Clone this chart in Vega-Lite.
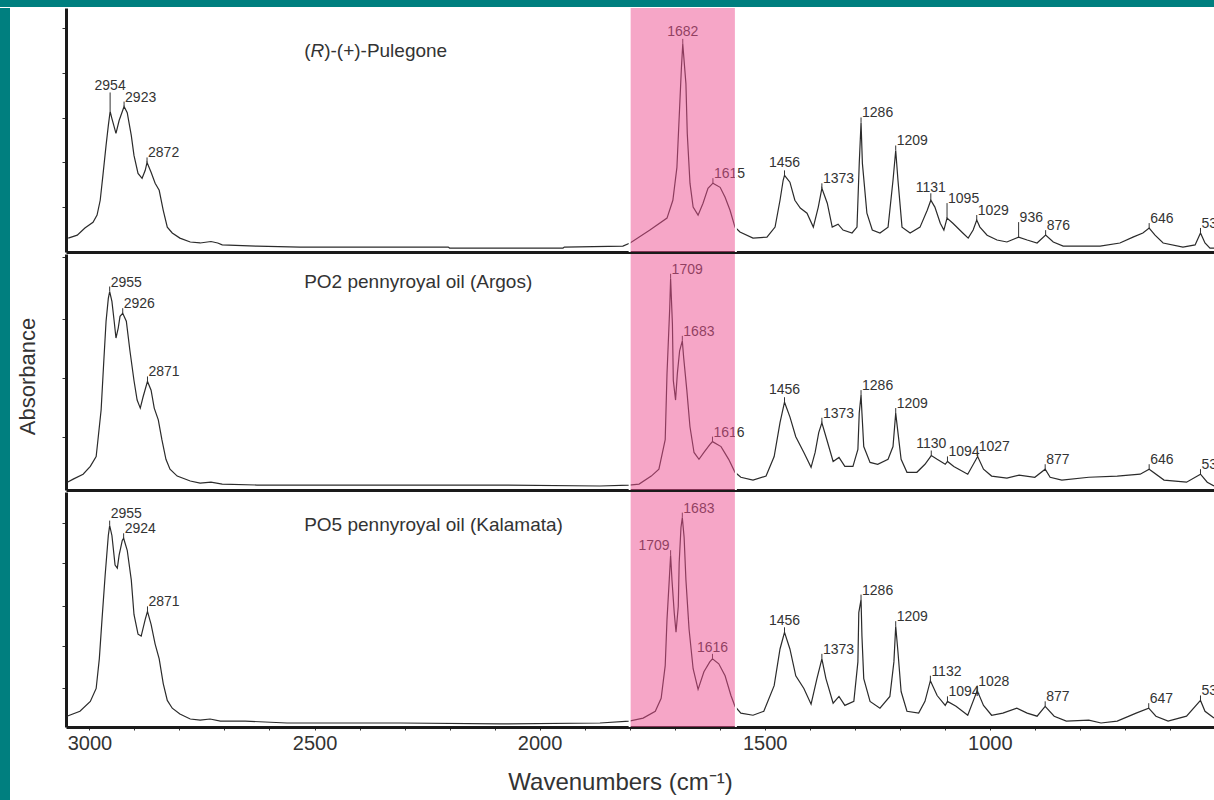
{
  "$schema": "https://vega.github.io/schema/vega-lite/v6.json",
  "background": "white",
  "padding": 0,
  "spacing": 0,
  "config": {
    "view": {"stroke": null},
    "concat": {"spacing": 0},
    "axis": {"domainColor": "#1a1a1a", "domainWidth": 3, "tickColor": "#333333", "tickWidth": 1, "labelFont": "Liberation Sans", "titleFont": "Liberation Sans", "labelColor": "#333333", "titleColor": "#333333", "titleFontWeight": "normal", "grid": false},
    "text": {"font": "Liberation Sans"}
  },
  "datasets": {
    "spectra": [
      {"sample":"Pulegone","wavenumber":3047,"absorbance":0.057},{"sample":"Pulegone","wavenumber":3027,"absorbance":0.069},{"sample":"Pulegone","wavenumber":3010,"absorbance":0.098},{"sample":"Pulegone","wavenumber":2992,"absorbance":0.122},{"sample":"Pulegone","wavenumber":2983,"absorbance":0.151},{"sample":"Pulegone","wavenumber":2976,"absorbance":0.212},{"sample":"Pulegone","wavenumber":2970,"absorbance":0.314},{"sample":"Pulegone","wavenumber":2963,"absorbance":0.437},{"sample":"Pulegone","wavenumber":2958,"absorbance":0.518},{"sample":"Pulegone","wavenumber":2954,"absorbance":0.576},{"sample":"Pulegone","wavenumber":2950,"absorbance":0.547},{"sample":"Pulegone","wavenumber":2941,"absorbance":0.486},{"sample":"Pulegone","wavenumber":2934,"absorbance":0.539},{"sample":"Pulegone","wavenumber":2923,"absorbance":0.596},{"sample":"Pulegone","wavenumber":2916,"absorbance":0.571},{"sample":"Pulegone","wavenumber":2907,"absorbance":0.478},{"sample":"Pulegone","wavenumber":2901,"absorbance":0.396},{"sample":"Pulegone","wavenumber":2892,"absorbance":0.322},{"sample":"Pulegone","wavenumber":2883,"absorbance":0.302},{"sample":"Pulegone","wavenumber":2876,"absorbance":0.335},{"sample":"Pulegone","wavenumber":2872,"absorbance":0.367},{"sample":"Pulegone","wavenumber":2863,"absorbance":0.327},{"sample":"Pulegone","wavenumber":2854,"absorbance":0.282},{"sample":"Pulegone","wavenumber":2845,"absorbance":0.253},{"sample":"Pulegone","wavenumber":2836,"absorbance":0.171},{"sample":"Pulegone","wavenumber":2827,"absorbance":0.102},{"sample":"Pulegone","wavenumber":2816,"absorbance":0.078},{"sample":"Pulegone","wavenumber":2799,"absorbance":0.057},{"sample":"Pulegone","wavenumber":2776,"absorbance":0.041},{"sample":"Pulegone","wavenumber":2754,"absorbance":0.037},{"sample":"Pulegone","wavenumber":2730,"absorbance":0.043},{"sample":"Pulegone","wavenumber":2715,"absorbance":0.037},{"sample":"Pulegone","wavenumber":2705,"absorbance":0.029},{"sample":"Pulegone","wavenumber":2628,"absorbance":0.024},{"sample":"Pulegone","wavenumber":2532,"absorbance":0.020},{"sample":"Pulegone","wavenumber":2203,"absorbance":0.020},{"sample":"Pulegone","wavenumber":2200,"absorbance":0.016},{"sample":"Pulegone","wavenumber":1948,"absorbance":0.016},{"sample":"Pulegone","wavenumber":1945,"absorbance":0.020},{"sample":"Pulegone","wavenumber":1815,"absorbance":0.024},{"sample":"Pulegone","wavenumber":1799,"absorbance":0.037},{"sample":"Pulegone","wavenumber":1755,"absorbance":0.090},{"sample":"Pulegone","wavenumber":1717,"absorbance":0.139},{"sample":"Pulegone","wavenumber":1704,"absorbance":0.212},{"sample":"Pulegone","wavenumber":1695,"absorbance":0.347},{"sample":"Pulegone","wavenumber":1690,"absorbance":0.551},{"sample":"Pulegone","wavenumber":1685,"absorbance":0.755},{"sample":"Pulegone","wavenumber":1682,"absorbance":0.853},{"sample":"Pulegone","wavenumber":1675,"absorbance":0.690},{"sample":"Pulegone","wavenumber":1672,"absorbance":0.486},{"sample":"Pulegone","wavenumber":1666,"absorbance":0.282},{"sample":"Pulegone","wavenumber":1659,"absorbance":0.184},{"sample":"Pulegone","wavenumber":1648,"absorbance":0.151},{"sample":"Pulegone","wavenumber":1637,"absorbance":0.200},{"sample":"Pulegone","wavenumber":1626,"absorbance":0.261},{"sample":"Pulegone","wavenumber":1615,"absorbance":0.282},{"sample":"Pulegone","wavenumber":1599,"absorbance":0.265},{"sample":"Pulegone","wavenumber":1588,"absorbance":0.224},{"sample":"Pulegone","wavenumber":1577,"absorbance":0.171},{"sample":"Pulegone","wavenumber":1566,"absorbance":0.102},{"sample":"Pulegone","wavenumber":1555,"absorbance":0.082},{"sample":"Pulegone","wavenumber":1526,"absorbance":0.057},{"sample":"Pulegone","wavenumber":1495,"absorbance":0.061},{"sample":"Pulegone","wavenumber":1477,"absorbance":0.102},{"sample":"Pulegone","wavenumber":1466,"absorbance":0.212},{"sample":"Pulegone","wavenumber":1459,"absorbance":0.294},{"sample":"Pulegone","wavenumber":1456,"absorbance":0.314},{"sample":"Pulegone","wavenumber":1444,"absorbance":0.286},{"sample":"Pulegone","wavenumber":1433,"absorbance":0.212},{"sample":"Pulegone","wavenumber":1421,"absorbance":0.180},{"sample":"Pulegone","wavenumber":1406,"absorbance":0.159},{"sample":"Pulegone","wavenumber":1392,"absorbance":0.102},{"sample":"Pulegone","wavenumber":1381,"absorbance":0.184},{"sample":"Pulegone","wavenumber":1373,"absorbance":0.261},{"sample":"Pulegone","wavenumber":1361,"absorbance":0.200},{"sample":"Pulegone","wavenumber":1350,"absorbance":0.102},{"sample":"Pulegone","wavenumber":1337,"absorbance":0.114},{"sample":"Pulegone","wavenumber":1326,"absorbance":0.090},{"sample":"Pulegone","wavenumber":1306,"absorbance":0.078},{"sample":"Pulegone","wavenumber":1295,"absorbance":0.102},{"sample":"Pulegone","wavenumber":1290,"absorbance":0.363},{"sample":"Pulegone","wavenumber":1286,"absorbance":0.531},{"sample":"Pulegone","wavenumber":1283,"absorbance":0.363},{"sample":"Pulegone","wavenumber":1273,"absorbance":0.159},{"sample":"Pulegone","wavenumber":1261,"absorbance":0.090},{"sample":"Pulegone","wavenumber":1244,"absorbance":0.078},{"sample":"Pulegone","wavenumber":1226,"absorbance":0.102},{"sample":"Pulegone","wavenumber":1215,"absorbance":0.294},{"sample":"Pulegone","wavenumber":1209,"absorbance":0.416},{"sample":"Pulegone","wavenumber":1204,"absorbance":0.294},{"sample":"Pulegone","wavenumber":1195,"absorbance":0.102},{"sample":"Pulegone","wavenumber":1177,"absorbance":0.078},{"sample":"Pulegone","wavenumber":1155,"absorbance":0.102},{"sample":"Pulegone","wavenumber":1139,"absorbance":0.171},{"sample":"Pulegone","wavenumber":1131,"absorbance":0.212},{"sample":"Pulegone","wavenumber":1122,"absorbance":0.184},{"sample":"Pulegone","wavenumber":1110,"absorbance":0.118},{"sample":"Pulegone","wavenumber":1102,"absorbance":0.090},{"sample":"Pulegone","wavenumber":1095,"absorbance":0.139},{"sample":"Pulegone","wavenumber":1082,"absorbance":0.118},{"sample":"Pulegone","wavenumber":1060,"absorbance":0.078},{"sample":"Pulegone","wavenumber":1048,"absorbance":0.057},{"sample":"Pulegone","wavenumber":1037,"absorbance":0.090},{"sample":"Pulegone","wavenumber":1029,"absorbance":0.131},{"sample":"Pulegone","wavenumber":1022,"absorbance":0.102},{"sample":"Pulegone","wavenumber":1006,"absorbance":0.069},{"sample":"Pulegone","wavenumber":984,"absorbance":0.049},{"sample":"Pulegone","wavenumber":962,"absorbance":0.041},{"sample":"Pulegone","wavenumber":936,"absorbance":0.061},{"sample":"Pulegone","wavenumber":917,"absorbance":0.049},{"sample":"Pulegone","wavenumber":895,"absorbance":0.037},{"sample":"Pulegone","wavenumber":876,"absorbance":0.069},{"sample":"Pulegone","wavenumber":859,"absorbance":0.041},{"sample":"Pulegone","wavenumber":837,"absorbance":0.024},{"sample":"Pulegone","wavenumber":755,"absorbance":0.024},{"sample":"Pulegone","wavenumber":711,"absorbance":0.037},{"sample":"Pulegone","wavenumber":682,"absorbance":0.061},{"sample":"Pulegone","wavenumber":660,"absorbance":0.078},{"sample":"Pulegone","wavenumber":646,"absorbance":0.098},{"sample":"Pulegone","wavenumber":633,"absorbance":0.069},{"sample":"Pulegone","wavenumber":615,"absorbance":0.037},{"sample":"Pulegone","wavenumber":571,"absorbance":0.020},{"sample":"Pulegone","wavenumber":544,"absorbance":0.029},{"sample":"Pulegone","wavenumber":532,"absorbance":0.078},{"sample":"Pulegone","wavenumber":522,"absorbance":0.037},{"sample":"Pulegone","wavenumber":511,"absorbance":0.016},{"sample":"Pulegone","wavenumber":502,"absorbance":0.016},
      {"sample":"PO2","wavenumber":3049,"absorbance":0.033},{"sample":"PO2","wavenumber":3036,"absorbance":0.046},{"sample":"PO2","wavenumber":3014,"absorbance":0.067},{"sample":"PO2","wavenumber":2998,"absorbance":0.100},{"sample":"PO2","wavenumber":2985,"absorbance":0.142},{"sample":"PO2","wavenumber":2981,"absorbance":0.213},{"sample":"PO2","wavenumber":2974,"absorbance":0.339},{"sample":"PO2","wavenumber":2968,"absorbance":0.548},{"sample":"PO2","wavenumber":2963,"absorbance":0.715},{"sample":"PO2","wavenumber":2958,"absorbance":0.812},{"sample":"PO2","wavenumber":2955,"absorbance":0.841},{"sample":"PO2","wavenumber":2950,"absorbance":0.799},{"sample":"PO2","wavenumber":2945,"absorbance":0.715},{"sample":"PO2","wavenumber":2941,"absorbance":0.644},{"sample":"PO2","wavenumber":2936,"absorbance":0.686},{"sample":"PO2","wavenumber":2932,"absorbance":0.736},{"sample":"PO2","wavenumber":2926,"absorbance":0.749},{"sample":"PO2","wavenumber":2918,"absorbance":0.715},{"sample":"PO2","wavenumber":2910,"absorbance":0.590},{"sample":"PO2","wavenumber":2901,"absorbance":0.464},{"sample":"PO2","wavenumber":2894,"absorbance":0.381},{"sample":"PO2","wavenumber":2887,"absorbance":0.347},{"sample":"PO2","wavenumber":2881,"absorbance":0.393},{"sample":"PO2","wavenumber":2871,"absorbance":0.460},{"sample":"PO2","wavenumber":2863,"absorbance":0.423},{"sample":"PO2","wavenumber":2856,"absorbance":0.347},{"sample":"PO2","wavenumber":2847,"absorbance":0.297},{"sample":"PO2","wavenumber":2839,"absorbance":0.213},{"sample":"PO2","wavenumber":2830,"absorbance":0.130},{"sample":"PO2","wavenumber":2821,"absorbance":0.088},{"sample":"PO2","wavenumber":2805,"absorbance":0.059},{"sample":"PO2","wavenumber":2776,"absorbance":0.038},{"sample":"PO2","wavenumber":2754,"absorbance":0.029},{"sample":"PO2","wavenumber":2730,"absorbance":0.033},{"sample":"PO2","wavenumber":2705,"absorbance":0.025},{"sample":"PO2","wavenumber":2628,"absorbance":0.021},{"sample":"PO2","wavenumber":2310,"absorbance":0.021},{"sample":"PO2","wavenumber":2088,"absorbance":0.021},{"sample":"PO2","wavenumber":1866,"absorbance":0.017},{"sample":"PO2","wavenumber":1801,"absorbance":0.021},{"sample":"PO2","wavenumber":1779,"absorbance":0.025},{"sample":"PO2","wavenumber":1752,"absorbance":0.059},{"sample":"PO2","wavenumber":1735,"absorbance":0.088},{"sample":"PO2","wavenumber":1721,"absorbance":0.213},{"sample":"PO2","wavenumber":1717,"absorbance":0.494},{"sample":"PO2","wavenumber":1711,"absorbance":0.770},{"sample":"PO2","wavenumber":1709,"absorbance":0.895},{"sample":"PO2","wavenumber":1705,"absorbance":0.703},{"sample":"PO2","wavenumber":1703,"absorbance":0.464},{"sample":"PO2","wavenumber":1698,"absorbance":0.381},{"sample":"PO2","wavenumber":1694,"absorbance":0.494},{"sample":"PO2","wavenumber":1689,"absorbance":0.590},{"sample":"PO2","wavenumber":1683,"absorbance":0.632},{"sample":"PO2","wavenumber":1680,"absorbance":0.561},{"sample":"PO2","wavenumber":1673,"absorbance":0.423},{"sample":"PO2","wavenumber":1666,"absorbance":0.268},{"sample":"PO2","wavenumber":1657,"absorbance":0.159},{"sample":"PO2","wavenumber":1646,"absorbance":0.130},{"sample":"PO2","wavenumber":1635,"absorbance":0.159},{"sample":"PO2","wavenumber":1622,"absorbance":0.192},{"sample":"PO2","wavenumber":1616,"absorbance":0.205},{"sample":"PO2","wavenumber":1597,"absorbance":0.184},{"sample":"PO2","wavenumber":1580,"absorbance":0.130},{"sample":"PO2","wavenumber":1566,"absorbance":0.075},{"sample":"PO2","wavenumber":1553,"absorbance":0.054},{"sample":"PO2","wavenumber":1526,"absorbance":0.042},{"sample":"PO2","wavenumber":1497,"absorbance":0.059},{"sample":"PO2","wavenumber":1479,"absorbance":0.142},{"sample":"PO2","wavenumber":1466,"absorbance":0.285},{"sample":"PO2","wavenumber":1456,"absorbance":0.372},{"sample":"PO2","wavenumber":1444,"absorbance":0.310},{"sample":"PO2","wavenumber":1431,"absorbance":0.226},{"sample":"PO2","wavenumber":1413,"absorbance":0.159},{"sample":"PO2","wavenumber":1397,"absorbance":0.096},{"sample":"PO2","wavenumber":1388,"absorbance":0.159},{"sample":"PO2","wavenumber":1380,"absorbance":0.243},{"sample":"PO2","wavenumber":1373,"absorbance":0.285},{"sample":"PO2","wavenumber":1362,"absorbance":0.213},{"sample":"PO2","wavenumber":1348,"absorbance":0.121},{"sample":"PO2","wavenumber":1335,"absorbance":0.138},{"sample":"PO2","wavenumber":1322,"absorbance":0.100},{"sample":"PO2","wavenumber":1304,"absorbance":0.100},{"sample":"PO2","wavenumber":1293,"absorbance":0.172},{"sample":"PO2","wavenumber":1290,"absorbance":0.326},{"sample":"PO2","wavenumber":1286,"absorbance":0.402},{"sample":"PO2","wavenumber":1284,"absorbance":0.326},{"sample":"PO2","wavenumber":1280,"absorbance":0.184},{"sample":"PO2","wavenumber":1266,"absorbance":0.117},{"sample":"PO2","wavenumber":1249,"absorbance":0.109},{"sample":"PO2","wavenumber":1226,"absorbance":0.130},{"sample":"PO2","wavenumber":1215,"absorbance":0.184},{"sample":"PO2","wavenumber":1209,"absorbance":0.326},{"sample":"PO2","wavenumber":1204,"absorbance":0.243},{"sample":"PO2","wavenumber":1197,"absorbance":0.130},{"sample":"PO2","wavenumber":1184,"absorbance":0.075},{"sample":"PO2","wavenumber":1162,"absorbance":0.075},{"sample":"PO2","wavenumber":1144,"absorbance":0.109},{"sample":"PO2","wavenumber":1130,"absorbance":0.146},{"sample":"PO2","wavenumber":1117,"absorbance":0.130},{"sample":"PO2","wavenumber":1099,"absorbance":0.109},{"sample":"PO2","wavenumber":1094,"absorbance":0.121},{"sample":"PO2","wavenumber":1080,"absorbance":0.100},{"sample":"PO2","wavenumber":1049,"absorbance":0.067},{"sample":"PO2","wavenumber":1027,"absorbance":0.142},{"sample":"PO2","wavenumber":1014,"absorbance":0.088},{"sample":"PO2","wavenumber":996,"absorbance":0.059},{"sample":"PO2","wavenumber":962,"absorbance":0.050},{"sample":"PO2","wavenumber":935,"absorbance":0.063},{"sample":"PO2","wavenumber":900,"absorbance":0.054},{"sample":"PO2","wavenumber":877,"absorbance":0.088},{"sample":"PO2","wavenumber":866,"absorbance":0.054},{"sample":"PO2","wavenumber":840,"absorbance":0.042},{"sample":"PO2","wavenumber":780,"absorbance":0.054},{"sample":"PO2","wavenumber":717,"absorbance":0.059},{"sample":"PO2","wavenumber":666,"absorbance":0.067},{"sample":"PO2","wavenumber":646,"absorbance":0.088},{"sample":"PO2","wavenumber":613,"absorbance":0.042},{"sample":"PO2","wavenumber":563,"absorbance":0.033},{"sample":"PO2","wavenumber":532,"absorbance":0.067},{"sample":"PO2","wavenumber":517,"absorbance":0.033},{"sample":"PO2","wavenumber":502,"absorbance":0.017},
      {"sample":"PO5","wavenumber":3050,"absorbance":0.046},{"sample":"PO5","wavenumber":3021,"absorbance":0.067},{"sample":"PO5","wavenumber":2998,"absorbance":0.109},{"sample":"PO5","wavenumber":2985,"absorbance":0.164},{"sample":"PO5","wavenumber":2978,"absorbance":0.290},{"sample":"PO5","wavenumber":2972,"absorbance":0.458},{"sample":"PO5","wavenumber":2965,"absorbance":0.647},{"sample":"PO5","wavenumber":2958,"absorbance":0.815},{"sample":"PO5","wavenumber":2955,"absorbance":0.857},{"sample":"PO5","wavenumber":2950,"absorbance":0.815},{"sample":"PO5","wavenumber":2943,"absorbance":0.689},{"sample":"PO5","wavenumber":2938,"absorbance":0.676},{"sample":"PO5","wavenumber":2934,"absorbance":0.731},{"sample":"PO5","wavenumber":2927,"absorbance":0.794},{"sample":"PO5","wavenumber":2924,"absorbance":0.803},{"sample":"PO5","wavenumber":2916,"absorbance":0.752},{"sample":"PO5","wavenumber":2907,"absorbance":0.626},{"sample":"PO5","wavenumber":2901,"absorbance":0.479},{"sample":"PO5","wavenumber":2892,"absorbance":0.395},{"sample":"PO5","wavenumber":2885,"absorbance":0.387},{"sample":"PO5","wavenumber":2876,"absorbance":0.458},{"sample":"PO5","wavenumber":2871,"absorbance":0.492},{"sample":"PO5","wavenumber":2863,"absorbance":0.437},{"sample":"PO5","wavenumber":2854,"absorbance":0.353},{"sample":"PO5","wavenumber":2845,"absorbance":0.290},{"sample":"PO5","wavenumber":2836,"absorbance":0.185},{"sample":"PO5","wavenumber":2827,"absorbance":0.113},{"sample":"PO5","wavenumber":2816,"absorbance":0.080},{"sample":"PO5","wavenumber":2799,"absorbance":0.055},{"sample":"PO5","wavenumber":2776,"absorbance":0.034},{"sample":"PO5","wavenumber":2754,"absorbance":0.029},{"sample":"PO5","wavenumber":2732,"absorbance":0.034},{"sample":"PO5","wavenumber":2709,"absorbance":0.025},{"sample":"PO5","wavenumber":2654,"absorbance":0.025},{"sample":"PO5","wavenumber":2561,"absorbance":0.017},{"sample":"PO5","wavenumber":2310,"absorbance":0.017},{"sample":"PO5","wavenumber":2088,"absorbance":0.013},{"sample":"PO5","wavenumber":1866,"absorbance":0.017},{"sample":"PO5","wavenumber":1801,"absorbance":0.025},{"sample":"PO5","wavenumber":1770,"absorbance":0.038},{"sample":"PO5","wavenumber":1743,"absorbance":0.067},{"sample":"PO5","wavenumber":1730,"absorbance":0.122},{"sample":"PO5","wavenumber":1721,"absorbance":0.261},{"sample":"PO5","wavenumber":1717,"absorbance":0.458},{"sample":"PO5","wavenumber":1712,"absorbance":0.626},{"sample":"PO5","wavenumber":1709,"absorbance":0.731},{"sample":"PO5","wavenumber":1706,"absorbance":0.626},{"sample":"PO5","wavenumber":1701,"absorbance":0.487},{"sample":"PO5","wavenumber":1697,"absorbance":0.403},{"sample":"PO5","wavenumber":1692,"absorbance":0.513},{"sample":"PO5","wavenumber":1690,"absorbance":0.697},{"sample":"PO5","wavenumber":1686,"absorbance":0.849},{"sample":"PO5","wavenumber":1683,"absorbance":0.891},{"sample":"PO5","wavenumber":1679,"absorbance":0.807},{"sample":"PO5","wavenumber":1675,"absorbance":0.626},{"sample":"PO5","wavenumber":1668,"absorbance":0.416},{"sample":"PO5","wavenumber":1659,"absorbance":0.248},{"sample":"PO5","wavenumber":1648,"absorbance":0.160},{"sample":"PO5","wavenumber":1635,"absorbance":0.235},{"sample":"PO5","wavenumber":1622,"absorbance":0.277},{"sample":"PO5","wavenumber":1616,"absorbance":0.290},{"sample":"PO5","wavenumber":1602,"absorbance":0.269},{"sample":"PO5","wavenumber":1588,"absorbance":0.218},{"sample":"PO5","wavenumber":1575,"absorbance":0.134},{"sample":"PO5","wavenumber":1566,"absorbance":0.088},{"sample":"PO5","wavenumber":1553,"absorbance":0.059},{"sample":"PO5","wavenumber":1526,"absorbance":0.050},{"sample":"PO5","wavenumber":1502,"absorbance":0.067},{"sample":"PO5","wavenumber":1479,"absorbance":0.176},{"sample":"PO5","wavenumber":1466,"absorbance":0.332},{"sample":"PO5","wavenumber":1456,"absorbance":0.403},{"sample":"PO5","wavenumber":1444,"absorbance":0.332},{"sample":"PO5","wavenumber":1431,"absorbance":0.218},{"sample":"PO5","wavenumber":1413,"absorbance":0.164},{"sample":"PO5","wavenumber":1397,"absorbance":0.097},{"sample":"PO5","wavenumber":1384,"absorbance":0.206},{"sample":"PO5","wavenumber":1373,"absorbance":0.290},{"sample":"PO5","wavenumber":1364,"absorbance":0.206},{"sample":"PO5","wavenumber":1348,"absorbance":0.101},{"sample":"PO5","wavenumber":1335,"absorbance":0.130},{"sample":"PO5","wavenumber":1322,"absorbance":0.092},{"sample":"PO5","wavenumber":1302,"absorbance":0.109},{"sample":"PO5","wavenumber":1293,"absorbance":0.277},{"sample":"PO5","wavenumber":1291,"absorbance":0.487},{"sample":"PO5","wavenumber":1286,"absorbance":0.542},{"sample":"PO5","wavenumber":1284,"absorbance":0.387},{"sample":"PO5","wavenumber":1280,"absorbance":0.206},{"sample":"PO5","wavenumber":1266,"absorbance":0.109},{"sample":"PO5","wavenumber":1244,"absorbance":0.080},{"sample":"PO5","wavenumber":1222,"absorbance":0.130},{"sample":"PO5","wavenumber":1213,"absorbance":0.277},{"sample":"PO5","wavenumber":1209,"absorbance":0.429},{"sample":"PO5","wavenumber":1204,"absorbance":0.319},{"sample":"PO5","wavenumber":1197,"absorbance":0.151},{"sample":"PO5","wavenumber":1184,"absorbance":0.067},{"sample":"PO5","wavenumber":1158,"absorbance":0.059},{"sample":"PO5","wavenumber":1144,"absorbance":0.109},{"sample":"PO5","wavenumber":1132,"absorbance":0.197},{"sample":"PO5","wavenumber":1117,"absorbance":0.134},{"sample":"PO5","wavenumber":1099,"absorbance":0.092},{"sample":"PO5","wavenumber":1094,"absorbance":0.109},{"sample":"PO5","wavenumber":1075,"absorbance":0.088},{"sample":"PO5","wavenumber":1049,"absorbance":0.050},{"sample":"PO5","wavenumber":1028,"absorbance":0.155},{"sample":"PO5","wavenumber":1014,"absorbance":0.092},{"sample":"PO5","wavenumber":996,"absorbance":0.050},{"sample":"PO5","wavenumber":971,"absorbance":0.059},{"sample":"PO5","wavenumber":940,"absorbance":0.080},{"sample":"PO5","wavenumber":917,"absorbance":0.059},{"sample":"PO5","wavenumber":895,"absorbance":0.046},{"sample":"PO5","wavenumber":877,"absorbance":0.088},{"sample":"PO5","wavenumber":857,"absorbance":0.046},{"sample":"PO5","wavenumber":830,"absorbance":0.025},{"sample":"PO5","wavenumber":780,"absorbance":0.029},{"sample":"PO5","wavenumber":753,"absorbance":0.017},{"sample":"PO5","wavenumber":717,"absorbance":0.025},{"sample":"PO5","wavenumber":675,"absorbance":0.059},{"sample":"PO5","wavenumber":647,"absorbance":0.080},{"sample":"PO5","wavenumber":631,"absorbance":0.046},{"sample":"PO5","wavenumber":604,"absorbance":0.025},{"sample":"PO5","wavenumber":563,"absorbance":0.046},{"sample":"PO5","wavenumber":532,"absorbance":0.113},{"sample":"PO5","wavenumber":522,"absorbance":0.067},{"sample":"PO5","wavenumber":502,"absorbance":0.038}
    ],
    "peaks": [
      {"sample":"Pulegone","wavenumber":2954,"absorbance":0.576},{"sample":"Pulegone","wavenumber":2923,"absorbance":0.596},{"sample":"Pulegone","wavenumber":2872,"absorbance":0.367},{"sample":"Pulegone","wavenumber":1682,"absorbance":0.853},{"sample":"Pulegone","wavenumber":1615,"absorbance":0.282},{"sample":"Pulegone","wavenumber":1456,"absorbance":0.314},{"sample":"Pulegone","wavenumber":1373,"absorbance":0.261},{"sample":"Pulegone","wavenumber":1286,"absorbance":0.531},{"sample":"Pulegone","wavenumber":1209,"absorbance":0.416},{"sample":"Pulegone","wavenumber":1131,"absorbance":0.212},{"sample":"Pulegone","wavenumber":1095,"absorbance":0.139},{"sample":"Pulegone","wavenumber":1029,"absorbance":0.131},{"sample":"Pulegone","wavenumber":936,"absorbance":0.061},{"sample":"Pulegone","wavenumber":876,"absorbance":0.069},{"sample":"Pulegone","wavenumber":646,"absorbance":0.098},{"sample":"Pulegone","wavenumber":532,"absorbance":0.078},
      {"sample":"PO2","wavenumber":2955,"absorbance":0.841},{"sample":"PO2","wavenumber":2926,"absorbance":0.749},{"sample":"PO2","wavenumber":2871,"absorbance":0.460},{"sample":"PO2","wavenumber":1709,"absorbance":0.895},{"sample":"PO2","wavenumber":1683,"absorbance":0.632},{"sample":"PO2","wavenumber":1616,"absorbance":0.205},{"sample":"PO2","wavenumber":1456,"absorbance":0.372},{"sample":"PO2","wavenumber":1373,"absorbance":0.285},{"sample":"PO2","wavenumber":1286,"absorbance":0.402},{"sample":"PO2","wavenumber":1209,"absorbance":0.326},{"sample":"PO2","wavenumber":1130,"absorbance":0.146},{"sample":"PO2","wavenumber":1094,"absorbance":0.121},{"sample":"PO2","wavenumber":1027,"absorbance":0.142},{"sample":"PO2","wavenumber":877,"absorbance":0.088},{"sample":"PO2","wavenumber":646,"absorbance":0.088},{"sample":"PO2","wavenumber":532,"absorbance":0.067},
      {"sample":"PO5","wavenumber":2955,"absorbance":0.857},{"sample":"PO5","wavenumber":2924,"absorbance":0.803},{"sample":"PO5","wavenumber":2871,"absorbance":0.492},{"sample":"PO5","wavenumber":1709,"absorbance":0.731},{"sample":"PO5","wavenumber":1683,"absorbance":0.891},{"sample":"PO5","wavenumber":1616,"absorbance":0.290},{"sample":"PO5","wavenumber":1456,"absorbance":0.403},{"sample":"PO5","wavenumber":1373,"absorbance":0.290},{"sample":"PO5","wavenumber":1286,"absorbance":0.542},{"sample":"PO5","wavenumber":1209,"absorbance":0.429},{"sample":"PO5","wavenumber":1132,"absorbance":0.197},{"sample":"PO5","wavenumber":1094,"absorbance":0.109},{"sample":"PO5","wavenumber":1028,"absorbance":0.155},{"sample":"PO5","wavenumber":877,"absorbance":0.088},{"sample":"PO5","wavenumber":647,"absorbance":0.080},{"sample":"PO5","wavenumber":532,"absorbance":0.113}
    ]
  },
  "vconcat": [
    {
      "width": 1214, "height": 7,
      "view": {"fill": "#007f7f", "stroke": null},
      "data": {"values": [{}]},
      "mark": {"type": "rect", "color": "#007f7f"},
      "encoding": {}
    },
    {
      "spacing": 6,
      "hconcat": [
        {
          "width": 10, "height": 793,
          "view": {"fill": "#007f7f", "stroke": null},
          "data": {"values": [{}]},
          "mark": {"type": "rect", "color": "#007f7f"},
          "encoding": {}
        },
        {
          "spacing": 0,
          "vconcat": [
            {
              "width": 1148, "height": 244,
              "layer": [
                {
                  "data": {"name": "spectra"},
                  "transform": [{"filter": "datum.sample === 'Pulegone'"}],
                  "mark": {"type": "line", "color": "#2b2b2b", "strokeWidth": 1.2, "clip": true},
                  "encoding": {
                    "x": {"field": "wavenumber", "type": "quantitative", "scale": {"domain": [502, 3052], "reverse": true, "nice": false, "zero": false}, "axis": {"labels": false, "ticks": false, "title": null}},
                    "y": {"field": "absorbance", "type": "quantitative", "scale": {"domain": [0, 1], "nice": false, "zero": false}, "axis": {"labels": false, "values": [0.184, 0.367, 0.551, 0.735, 0.918], "tickSize": 4, "title": null}}
                  }
                },
                {
                  "data": {"values": [{}]},
                  "mark": {"type": "text", "text": "(", "align": "left", "fontSize": 19, "color": "#333333"},
                  "encoding": {"x": {"datum": 2523}, "y": {"datum": 0.822}}
                },
                {
                  "data": {"values": [{}]},
                  "mark": {"type": "text", "text": "R", "align": "left", "fontSize": 19, "fontStyle": "italic", "dx": 6.3, "color": "#333333"},
                  "encoding": {"x": {"datum": 2523}, "y": {"datum": 0.822}}
                },
                {
                  "data": {"values": [{}]},
                  "mark": {"type": "text", "text": ")-(+)-Pulegone", "align": "left", "fontSize": 19, "dx": 20, "color": "#333333"},
                  "encoding": {"x": {"datum": 2523}, "y": {"datum": 0.822}}
                },
                {
                  "data": {"name": "peaks"},
                  "transform": [{"filter": "datum.sample === 'Pulegone' && indexof([2954, 1095, 936, 1131], datum.wavenumber) < 0"}],
                  "mark": {"type": "rule", "color": "#333333", "strokeWidth": 1, "y2Offset": -5},
                  "encoding": {"x": {"field": "wavenumber", "type": "quantitative"}, "y": {"field": "absorbance", "type": "quantitative"}, "y2": {"field": "absorbance"}}
                },
                {
                  "data": {"name": "peaks"},
                  "transform": [{"filter": "datum.sample === 'Pulegone' && datum.wavenumber === 1131"}],
                  "mark": {"type": "rule", "color": "#333333", "strokeWidth": 1, "y2Offset": -7},
                  "encoding": {"x": {"field": "wavenumber", "type": "quantitative"}, "y": {"field": "absorbance", "type": "quantitative"}, "y2": {"field": "absorbance"}}
                },
                {
                  "data": {"name": "peaks"},
                  "transform": [{"filter": "datum.sample === 'Pulegone' && indexof([1095, 936], datum.wavenumber) >= 0"}],
                  "mark": {"type": "rule", "color": "#333333", "strokeWidth": 1, "y2Offset": -15},
                  "encoding": {"x": {"field": "wavenumber", "type": "quantitative"}, "y": {"field": "absorbance", "type": "quantitative"}, "y2": {"field": "absorbance"}}
                },
                {
                  "data": {"name": "peaks"},
                  "transform": [{"filter": "datum.sample === 'Pulegone' && datum.wavenumber === 2954"}],
                  "mark": {"type": "rule", "color": "#333333", "strokeWidth": 1, "y2Offset": -19},
                  "encoding": {"x": {"field": "wavenumber", "type": "quantitative"}, "y": {"field": "absorbance", "type": "quantitative"}, "y2": {"field": "absorbance"}}
                },
                {
                  "data": {"name": "peaks"},
                  "transform": [{"filter": "datum.sample === 'Pulegone' && indexof([2954, 1682, 1456, 1095, 936, 1131], datum.wavenumber) < 0"}],
                  "mark": {"type": "text", "align": "left", "baseline": "alphabetic", "dx": 1, "dy": -5, "fontSize": 14, "color": "#333333", "clip": true},
                  "encoding": {"x": {"field": "wavenumber", "type": "quantitative"}, "y": {"field": "absorbance", "type": "quantitative"}, "text": {"field": "wavenumber", "type": "quantitative", "format": "d"}}
                },
                {
                  "data": {"name": "peaks"},
                  "transform": [{"filter": "datum.sample === 'Pulegone' && indexof([1095, 936], datum.wavenumber) >= 0"}],
                  "mark": {"type": "text", "align": "left", "baseline": "alphabetic", "dx": 1, "dy": -15, "fontSize": 14, "color": "#333333", "clip": true},
                  "encoding": {"x": {"field": "wavenumber", "type": "quantitative"}, "y": {"field": "absorbance", "type": "quantitative"}, "text": {"field": "wavenumber", "type": "quantitative", "format": "d"}}
                },
                {
                  "data": {"name": "peaks"},
                  "transform": [{"filter": "datum.sample === 'Pulegone' && indexof([1682, 1456, 1131], datum.wavenumber) >= 0"}],
                  "mark": {"type": "text", "align": "center", "baseline": "alphabetic", "dy": -8, "fontSize": 14, "color": "#333333", "clip": true},
                  "encoding": {"x": {"field": "wavenumber", "type": "quantitative"}, "y": {"field": "absorbance", "type": "quantitative"}, "text": {"field": "wavenumber", "type": "quantitative", "format": "d"}}
                },
                {
                  "data": {"name": "peaks"},
                  "transform": [{"filter": "datum.sample === 'Pulegone' && datum.wavenumber === 2954"}],
                  "mark": {"type": "text", "align": "center", "baseline": "alphabetic", "dy": -21, "fontSize": 14, "color": "#333333", "clip": true},
                  "encoding": {"x": {"field": "wavenumber", "type": "quantitative"}, "y": {"field": "absorbance", "type": "quantitative"}, "text": {"field": "wavenumber", "type": "quantitative", "format": "d"}}
                },
                {
                  "data": {"values": [{"start": 1800, "end": 1564}]},
                  "mark": {"type": "rect", "color": "#ee4d8f", "opacity": 0.5},
                  "encoding": {"x": {"field": "start", "type": "quantitative"}, "x2": {"field": "end"}}
                },
                {
                  "data": {"values": [{"edge": 1800}, {"edge": 1564}]},
                  "mark": {"type": "rule", "color": "white", "strokeWidth": 2},
                  "encoding": {"x": {"field": "edge", "type": "quantitative"}}
                }
              ]
            },
            {
              "width": 1148, "height": 236,
              "layer": [
                {
                  "data": {"name": "spectra"},
                  "transform": [{"filter": "datum.sample === 'PO2'"}],
                  "mark": {"type": "line", "color": "#2b2b2b", "strokeWidth": 1.2, "clip": true},
                  "encoding": {
                    "x": {"field": "wavenumber", "type": "quantitative", "scale": {"domain": [502, 3052], "reverse": true, "nice": false, "zero": false}, "axis": {"labels": false, "ticks": false, "title": null}},
                    "y": {"field": "absorbance", "type": "quantitative", "scale": {"domain": [0, 1], "nice": false, "zero": false}, "axis": {"labels": false, "values": [0.226, 0.473, 0.724, 0.987], "tickSize": 4, "title": "Absorbance", "titleFontSize": 22, "titleX": -32, "titleY": 122, "titleAngle": 270, "titleAlign": "center", "titleBaseline": "alphabetic"}}
                  }
                },
                {
                  "data": {"values": [{}]},
                  "mark": {"type": "text", "text": "PO2 pennyroyal oil (Argos)", "align": "left", "fontSize": 19, "color": "#333333"},
                  "encoding": {"x": {"datum": 2523}, "y": {"datum": 0.881}}
                },
                {
                  "data": {"name": "peaks"},
                  "transform": [{"filter": "datum.sample === 'PO2'"}],
                  "mark": {"type": "rule", "color": "#333333", "strokeWidth": 1, "y2Offset": -5},
                  "encoding": {"x": {"field": "wavenumber", "type": "quantitative"}, "y": {"field": "absorbance", "type": "quantitative"}, "y2": {"field": "absorbance"}}
                },
                {
                  "data": {"name": "peaks"},
                  "transform": [{"filter": "datum.sample === 'PO2' && indexof([1456, 1130], datum.wavenumber) < 0"}],
                  "mark": {"type": "text", "align": "left", "baseline": "alphabetic", "dx": 1, "dy": -5, "fontSize": 14, "color": "#333333", "clip": true},
                  "encoding": {"x": {"field": "wavenumber", "type": "quantitative"}, "y": {"field": "absorbance", "type": "quantitative"}, "text": {"field": "wavenumber", "type": "quantitative", "format": "d"}}
                },
                {
                  "data": {"name": "peaks"},
                  "transform": [{"filter": "datum.sample === 'PO2' && indexof([1456, 1130], datum.wavenumber) >= 0"}],
                  "mark": {"type": "text", "align": "center", "baseline": "alphabetic", "dy": -8, "fontSize": 14, "color": "#333333", "clip": true},
                  "encoding": {"x": {"field": "wavenumber", "type": "quantitative"}, "y": {"field": "absorbance", "type": "quantitative"}, "text": {"field": "wavenumber", "type": "quantitative", "format": "d"}}
                },
                {
                  "data": {"values": [{"start": 1800, "end": 1564}]},
                  "mark": {"type": "rect", "color": "#ee4d8f", "opacity": 0.5},
                  "encoding": {"x": {"field": "start", "type": "quantitative"}, "x2": {"field": "end"}}
                },
                {
                  "data": {"values": [{"edge": 1800}, {"edge": 1564}]},
                  "mark": {"type": "rule", "color": "white", "strokeWidth": 2},
                  "encoding": {"x": {"field": "edge", "type": "quantitative"}}
                }
              ]
            },
            {
              "width": 1148, "height": 235,
              "layer": [
                {
                  "data": {"name": "spectra"},
                  "transform": [{"filter": "datum.sample === 'PO5'"}],
                  "mark": {"type": "line", "color": "#2b2b2b", "strokeWidth": 1.2, "clip": true},
                  "encoding": {
                    "x": {"field": "wavenumber", "type": "quantitative", "scale": {"domain": [502, 3052], "reverse": true, "nice": false, "zero": false}, "axis": {"values": [3000, 2900, 2800, 2700, 2600, 2500, 2400, 2300, 2200, 2100, 2000, 1900, 1800, 1700, 1600, 1500, 1400, 1300, 1200, 1100, 1000, 900, 800, 700, 600], "format": "d", "labelExpr": "datum.value % 500 === 0 ? datum.label : ''", "tickSize": 3, "labelFontSize": 20, "labelPadding": 3, "labelDx": -6, "labelFlush": false, "labelOverlap": false, "title": "Wavenumbers (cm⁻¹)", "titleFontSize": 24, "titlePadding": 17, "titleX": 554}},
                    "y": {"field": "absorbance", "type": "quantitative", "scale": {"domain": [0, 1], "nice": false, "zero": false}, "axis": {"labels": false, "values": [0.168, 0.345, 0.517, 0.697, 0.866], "tickSize": 4, "title": null}}
                  }
                },
                {
                  "data": {"values": [{}]},
                  "mark": {"type": "text", "text": "PO5 pennyroyal oil (Kalamata)", "align": "left", "fontSize": 19, "color": "#333333"},
                  "encoding": {"x": {"datum": 2523}, "y": {"datum": 0.86}}
                },
                {
                  "data": {"name": "peaks"},
                  "transform": [{"filter": "datum.sample === 'PO5'"}],
                  "mark": {"type": "rule", "color": "#333333", "strokeWidth": 1, "y2Offset": -5},
                  "encoding": {"x": {"field": "wavenumber", "type": "quantitative"}, "y": {"field": "absorbance", "type": "quantitative"}, "y2": {"field": "absorbance"}}
                },
                {
                  "data": {"name": "peaks"},
                  "transform": [{"filter": "datum.sample === 'PO5' && indexof([1456, 1616, 1709, 2955], datum.wavenumber) < 0"}],
                  "mark": {"type": "text", "align": "left", "baseline": "alphabetic", "dx": 1, "dy": -5, "fontSize": 14, "color": "#333333", "clip": true},
                  "encoding": {"x": {"field": "wavenumber", "type": "quantitative"}, "y": {"field": "absorbance", "type": "quantitative"}, "text": {"field": "wavenumber", "type": "quantitative", "format": "d"}}
                },
                {
                  "data": {"name": "peaks"},
                  "transform": [{"filter": "datum.sample === 'PO5' && datum.wavenumber === 2955"}],
                  "mark": {"type": "text", "align": "left", "baseline": "alphabetic", "dx": 1, "dy": -8, "fontSize": 14, "color": "#333333", "clip": true},
                  "encoding": {"x": {"field": "wavenumber", "type": "quantitative"}, "y": {"field": "absorbance", "type": "quantitative"}, "text": {"field": "wavenumber", "type": "quantitative", "format": "d"}}
                },
                {
                  "data": {"name": "peaks"},
                  "transform": [{"filter": "datum.sample === 'PO5' && indexof([1456, 1616], datum.wavenumber) >= 0"}],
                  "mark": {"type": "text", "align": "center", "baseline": "alphabetic", "dy": -7, "fontSize": 14, "color": "#333333", "clip": true},
                  "encoding": {"x": {"field": "wavenumber", "type": "quantitative"}, "y": {"field": "absorbance", "type": "quantitative"}, "text": {"field": "wavenumber", "type": "quantitative", "format": "d"}}
                },
                {
                  "data": {"name": "peaks"},
                  "transform": [{"filter": "datum.sample === 'PO5' && datum.wavenumber === 1709"}],
                  "mark": {"type": "text", "align": "right", "baseline": "alphabetic", "dx": -1, "dy": -5, "fontSize": 14, "color": "#333333", "clip": true},
                  "encoding": {"x": {"field": "wavenumber", "type": "quantitative"}, "y": {"field": "absorbance", "type": "quantitative"}, "text": {"field": "wavenumber", "type": "quantitative", "format": "d"}}
                },
                {
                  "data": {"values": [{"start": 1800, "end": 1564}]},
                  "mark": {"type": "rect", "color": "#ee4d8f", "opacity": 0.5},
                  "encoding": {"x": {"field": "start", "type": "quantitative"}, "x2": {"field": "end"}}
                },
                {
                  "data": {"values": [{"edge": 1800}, {"edge": 1564}]},
                  "mark": {"type": "rule", "color": "white", "strokeWidth": 2},
                  "encoding": {"x": {"field": "edge", "type": "quantitative"}}
                }
              ]
            }
          ]
        }
      ]
    }
  ]
}
